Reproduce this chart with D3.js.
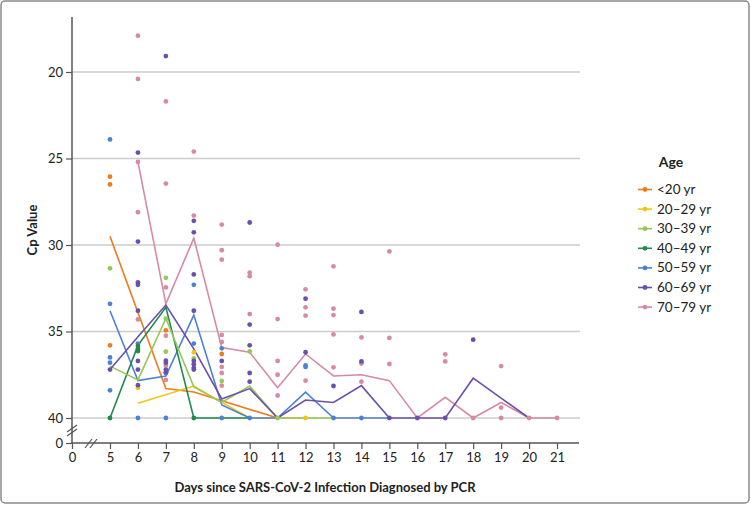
<!DOCTYPE html>
<html><head><meta charset="utf-8">
<script src="https://cdn.jsdelivr.net/npm/d3@7/dist/d3.min.js"></script>
<style>
html,body{margin:0;padding:0;background:#fff;}
svg{display:block;}
.tick text{font-family:"Liberation Sans Narrow","Lato",sans-serif;font-size:13px;fill:#222;}
</style></head>
<body><svg id="c" width="751" height="505"></svg>
<script>
const ageLabels = ["<20 yr","20–29 yr","30–39 yr","40–49 yr","50–59 yr","60–69 yr","70–79 yr"];
const ageColors = ["#ea7d1e","#f2c31a","#96c857","#1f8a4c","#4c82d4","#6a4fab","#d68ba0"];
const xTicks = [0,5,6,7,8,9,10,11,12,13,14,15,16,17,18,19,20,21];
const yTicks = [20,25,30,35,40];

// individual Cp values [day, Cp]
const dotsLt20 = [[5,26.05],[5,26.5],[5,35.8],[7,34.93],[9,36.3]];
const dots20s = [[6,38.25],[8,36.2],[12,40]];
const dots30s = [[5,31.35],[7,31.9],[7,34.25],[7,36.16],[8,36.55],[9,37.86],[10,36.15],[11,40]];
const dots40s = [[5,40],[6,35.84],[6,36.0],[6,36.13],[8,40]];
const dots50s = [[5,23.9],[5,33.4],[5,36.5],[5,36.8],[5,38.4],[6,35.7],[6,40],[7,37.4],[7,40],[8,32.3],[8,35.7],[9,35.97],[9,40],[10,40],[12,36.96],[12,37.05],[13,40],[14,40]];
const dots60s = [[5,37.2],[6,24.66],[6,29.8],[6,32.16],[6,32.3],[6,33.8],[6,36.7],[6,37.2],[6,38.1],
  [7,19.08],[7,36.69],[7,36.8],[7,37.2],[7,37.35],
  [8,28.6],[8,29.27],[8,31.7],[8,33.8],[8,36.7],[8,36.9],[8,37.1],[8,37.2],
  [9,36.7],[10,28.7],[10,34.6],[10,35.8],[10,37.4],[10,37.9],
  [12,33.1],[12,36.2],[13,38.15],[14,33.87],[14,36.73],[15,40],[16,40],[17,40],[18,35.47]];
const dots70s = [[6,17.9],[6,20.4],[6,25.2],[6,28.1],[6,34.3],
  [7,21.7],[7,26.45],[7,32.45],[7,35.24],[7,36.96],[7,37.8],
  [8,24.6],[8,28.3],
  [9,28.82],[9,30.3],[9,30.85],[9,35.2],[9,35.6],[9,37.05],[9,37.4],[9,38.13],
  [10,31.6],[10,31.8],[10,33.99],
  [11,29.98],[11,34.28],[11,36.7],[11,37.5],[11,38.7],
  [12,32.56],[12,33.6],[12,34.08],[12,37.84],
  [13,31.23],[13,33.68],[13,34.05],[13,35.17],[13,37.07],
  [14,35.34],[14,36.85],[14,37.9],
  [15,30.37],[15,35.37],[15,36.88],
  [17,36.32],[17,36.73],
  [18,40],[19,37.0],[19,39.4],[19,40],[20,40],[21,40]];

// mean Cp lines [day, Cp]
const lineLt20 = [[5,29.5],[7,38.3],[8,38.5],[11,40]];
const line20s = [[6,39.15],[8,38.15],[9,39.1],[10,40],[11,40],[12,40]];
const line30s = [[5,37.0],[6,37.8],[7,34.25],[8,38.2],[9,39.1],[10,38.15],[11,40],[12,40],[13,40]];
const line40s = [[5,40],[6,35.8],[7,33.6],[8,40],[9,40],[10,40]];
const line50s = [[5,33.8],[6,37.84],[7,37.57],[8,34.05],[9,39.25],[10,40],[11,40],[12,38.5],[13,40],[14,40],[15,40]];
const line60s = [[5,37.2],[6,35.3],[7,33.47],[8,36.0],[9,38.9],[10,38.3],[11,40],[12,38.96],[13,39.1],[14,38.13],[15,40],[16,40],[17,40],[18,37.7],[19,38.85],[20,40]];
const line70s = [[6,25.2],[7,33.4],[8,29.6],[9,35.93],[10,36.2],[11,38.25],[12,36.3],[13,37.57],[14,37.5],[15,37.84],[16,40],[17,38.8],[18,40],[19,39.1],[20,40],[21,40]];

const dotSets = [dotsLt20,dots20s,dots30s,dots40s,dots50s,dots60s,dots70s];
const lineSets = [lineLt20,line20s,line30s,line40s,line50s,line60s,line70s];

const svg = d3.select("#c");
svg.append("rect").attr("x",1).attr("y",1).attr("width",748).attr("height",502).attr("rx",4)
  .attr("fill","#fff").attr("stroke","#8a8a8a").attr("stroke-width",1.5);

const x = d3.scaleLinear().domain([0,4,21]).range([72,82.06,557]);
const y = d3.scaleLinear().domain([20,40]).range([72,418]);
const y0 = d3.scaleLinear().domain([0,1]).range([443,435]);
const axisColor = "#555";

// gridlines
svg.append("g").selectAll("line").data(yTicks).join("line")
  .attr("x1",72).attr("x2",580).attr("y1",d=>y(d)).attr("y2",d=>y(d))
  .attr("stroke","#cccccc").attr("stroke-width",1.5);

// y axis (main segment)
const gy = svg.append("g").attr("transform","translate(72,0)")
  .call(d3.axisLeft(y).tickValues(yTicks).tickSize(6).tickPadding(3));
gy.select(".domain").remove();
gy.selectAll(".tick line").attr("stroke",axisColor).attr("stroke-width",1.2);
// y axis (zero)
const gy0 = svg.append("g").attr("transform","translate(72,0)")
  .call(d3.axisLeft(y0).tickValues([0]).tickFormat(d3.format("d")).tickSize(6).tickPadding(3));
gy0.select(".domain").remove();
gy0.selectAll(".tick line").attr("stroke",axisColor).attr("stroke-width",1.2);
svg.append("line").attr("x1",72).attr("x2",72).attr("y1",17).attr("y2",443.7)
  .attr("stroke",axisColor).attr("stroke-width",1.5);

// x axis
const gx = svg.append("g").attr("transform","translate(0,443)")
  .call(d3.axisBottom(x).tickValues(xTicks).tickFormat(d3.format("d")).tickSize(6).tickPadding(4));
gx.select(".domain").remove();
gx.selectAll(".tick line").attr("stroke",axisColor).attr("stroke-width",1.2);
svg.append("line").attr("x1",71.3).attr("x2",579).attr("y1",443).attr("y2",443).attr("stroke",axisColor).attr("stroke-width",1.5);

// break marks
const brk = svg.append("g").attr("stroke",axisColor).attr("stroke-width",1.2).attr("fill","none");
[[85,448,92,439],[90,448,97,439]].forEach(s=>brk.append("line").attr("x1",s[0]).attr("y1",s[1]).attr("x2",s[2]).attr("y2",s[3]));
[[67,432,77,425],[67,436,77,429]].forEach(s=>brk.append("line").attr("x1",s[0]).attr("y1",s[1]).attr("x2",s[2]).attr("y2",s[3]));

// lines
const lineGen = d3.line().x(d=>x(d[0])).y(d=>y(d[1]));
const drawOrder = [6,0,1,4,3,2,5];
const gl = svg.append("g");
drawOrder.forEach(i=>{
  gl.append("path").datum(lineSets[i]).attr("d",lineGen).attr("fill","none")
    .attr("stroke",ageColors[i]).attr("stroke-width",1.6).attr("stroke-linejoin","miter");
});
// dots
const gd = svg.append("g");
drawOrder.forEach(i=>{
  gd.append("g").selectAll("circle").data(dotSets[i]).join("circle")
    .attr("cx",d=>x(d[0])).attr("cy",d=>y(d[1])).attr("r",2.4).attr("fill",ageColors[i]);
});

// axis titles
svg.append("text").attr("x",325).attr("y",492).attr("text-anchor","middle")
  .attr("font-family","Lato, sans-serif").attr("font-weight","bold").attr("font-size",13).attr("fill","#222")
  .text("Days since SARS-CoV-2 Infection Diagnosed by PCR");
svg.append("text").attr("transform","translate(37,230) rotate(-90)").attr("text-anchor","middle")
  .attr("font-family","Lato, sans-serif").attr("font-weight","bold").attr("font-size",13).attr("fill","#222")
  .text("Cp Value");

// legend
const lg = svg.append("g");
lg.append("text").attr("x",671).attr("y",167).attr("text-anchor","middle")
  .attr("font-family","Lato, sans-serif").attr("font-weight","bold").attr("font-size",14).attr("fill","#222").text("Age");
ageLabels.forEach((lab,i)=>{
  const cy = 189.5 + i*19.6;
  lg.append("line").attr("x1",638).attr("x2",652).attr("y1",cy).attr("y2",cy).attr("stroke",ageColors[i]).attr("stroke-width",1.6);
  lg.append("circle").attr("cx",645).attr("cy",cy).attr("r",2.4).attr("fill",ageColors[i]);
  lg.append("text").attr("x",657).attr("y",cy+4.5).attr("font-family","Lato, sans-serif").attr("font-size",13.5).attr("fill","#222").text(lab);
});
</script></body></html>
